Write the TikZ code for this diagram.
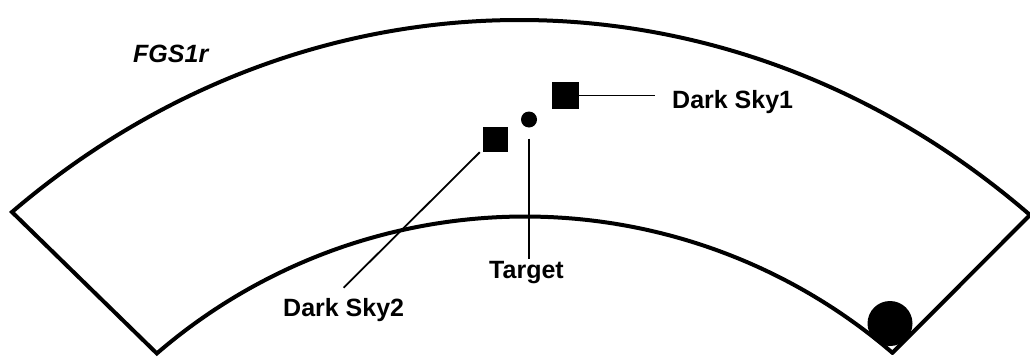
\documentclass[tikz,border=0pt]{standalone}
\usepackage{fontspec}
\setmainfont{Liberation Sans}
\begin{document}
\begin{tikzpicture}[x=1pt,y=-1pt,
  outline/.style={line width=4pt,line join=miter,black},
  conn/.style={line width=1.8pt,black},
  sqbox/.style={draw=none,fill=black,inner sep=0pt,minimum size=#1},
  dotmark/.style={circle,fill=black,inner sep=0pt,minimum size=#1},
  lbl/.style={inner sep=0pt,font=\fontsize{25}{30}\selectfont\bfseries},
  ilbl/.style={inner sep=0pt,font=\fontsize{25}{30}\selectfont\bfseries\itshape}]
\useasboundingbox[fill=white] (0,0) rectangle (1030,356);
% band outline
\coordinate (OL) at (12,212);
\coordinate (OR) at (1030,215);
\coordinate (IR) at (892.5,352.8);
\draw[outline] (OL) .. controls (312,-44.5) and (730,-44.5) .. (OR) -- (IR)
  -- plot[domain=49.3:130.8,samples=150] ({525+563.5*cos(\x)},{780-563.5*sin(\x)}) -- cycle;
% marks
\node[sqbox=27pt] (sq1) at (565.5,95.5) {};
\node[sqbox=25pt] (sq2) at (495.5,139.5) {};
\node[dotmark=16pt] (tgt) at (529,119.5) {};
\node[dotmark=45pt] (big) at (890,323.5) {};
% labels
\node[ilbl,anchor=base west] (fgs) at (133,62) {FGS1r};
\node[lbl,anchor=base west] (lab1) at (672,108) {Dark Sky1};
\node[lbl,anchor=base west] (lab2) at (283,316) {Dark Sky2};
\node[lbl,anchor=base] (tgtlab) at (526.5,278) {Target};
% connectors
\draw[conn] (sq1.east) -- ([xshift=-17pt]lab1.west |- sq1.east);
\draw[conn] ([shift={(-3pt,0pt)}]sq2.south west) -- ([yshift=10pt]lab2.north);
\draw[conn] ([yshift=-11pt]tgt.south) -- ([yshift=2pt]tgt.south |- tgtlab.north);
\end{tikzpicture}
\end{document}
